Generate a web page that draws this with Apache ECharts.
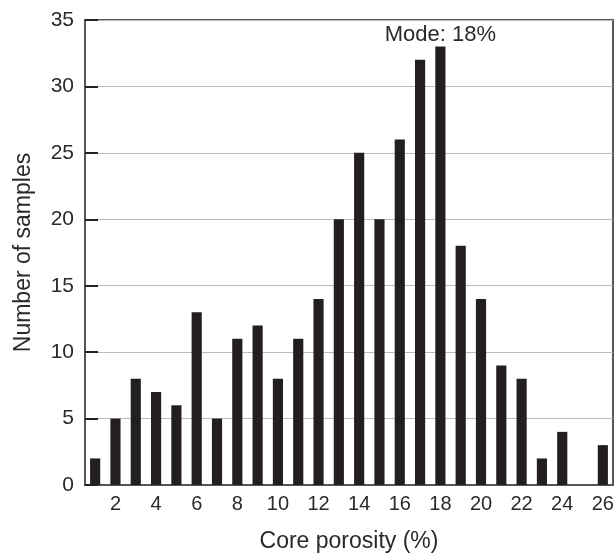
<!DOCTYPE html>
<html>
<head>
<meta charset="utf-8">
<script src="https://cdn.jsdelivr.net/npm/echarts@6/dist/echarts.min.js"></script>
<style>html,body{margin:0;padding:0;background:#fff}#c{width:615px;height:553px}</style>
</head>
<body>
<div id="c"></div>
<script>
var categories = ['1','2','3','4','5','6','7','8','9','10','11','12','13','14','15','16','17','18','19','20','21','22','23','24','25','26'];
var counts = [2,5,8,7,6,13,5,11,12,8,11,14,20,25,20,26,32,33,18,14,9,8,2,4,0,3];
var modeIndex = 17;
var modeLabel = 'Mode: 18%';
var yTicks = [0,5,10,15,20,25,30,35];

var font = 'Liberation Sans';
var chart = echarts.init(document.getElementById('c'), null, {renderer:'canvas'});
var data = counts.map(function(v,i){
  if (i === modeIndex) {
    return {value:v, label:{show:true, position:'top', distance:1, formatter:modeLabel, color:'#2a2a2a', fontSize:22, fontFamily:font}};
  }
  return v;
});
chart.setOption({
  animation:false,
  grid:{left:85, right:2, top:20, bottom:68, outerBoundsMode:'none', containLabel:false, show:true, borderColor:'#555', borderWidth:2, backgroundColor:'transparent'},
  xAxis:{
    type:'category', data:categories, boundaryGap:true,
    name:'Core porosity (%)', nameLocation:'middle', nameGap:45,
    nameTextStyle:{fontFamily:font, fontSize:23, color:'#2a2a2a'},
    axisLine:{lineStyle:{color:'#555', width:2}},
    axisTick:{show:false},
    axisLabel:{interval:0, fontFamily:font, fontSize:20, color:'#2a2a2a', margin:9,
      formatter:function(v){ return (+v % 2 === 0) ? v : ''; }}
  },
  yAxis:{
    type:'value', min:yTicks[0], max:yTicks[yTicks.length-1], interval:5,
    name:'Number of samples', nameLocation:'middle', nameGap:50, nameRotate:90,
    nameTextStyle:{fontFamily:font, fontSize:23, color:'#2a2a2a'},
    axisLine:{show:true, lineStyle:{color:'#555', width:2}},
    axisTick:{show:true, inside:true, length:13, lineStyle:{color:'#222', width:2}},
    axisLabel:{fontFamily:font, fontSize:21, color:'#2a2a2a', margin:11},
    splitLine:{show:true, lineStyle:{color:'#bbb', width:1}}
  },
  series:[{
    type:'bar', data:data, barWidth:'50%',
    itemStyle:{color:'#231f20'}
  }]
});
</script>
</body>
</html>
